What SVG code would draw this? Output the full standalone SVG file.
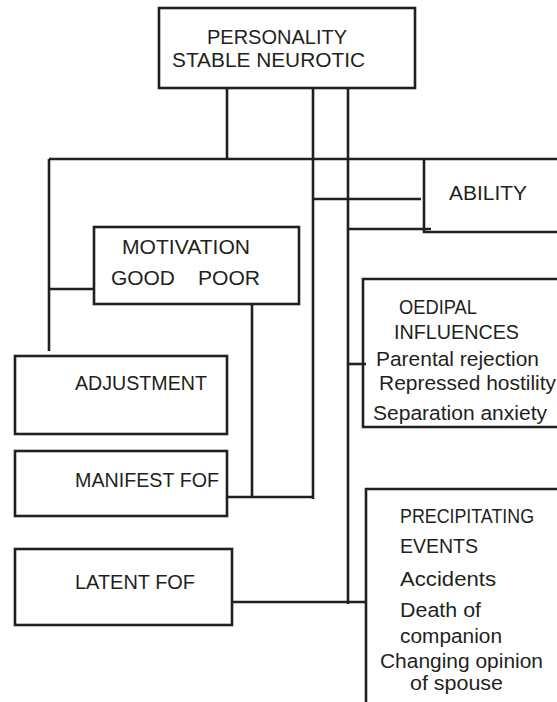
<svg xmlns="http://www.w3.org/2000/svg" width="557" height="702" viewBox="0 0 557 702">
<style>
.box{fill:#fff;stroke:#231f20;stroke-width:2.6}
.ln{fill:none;stroke:#231f20;stroke-width:2.6}
text{font-family:"Liberation Sans",Arial,sans-serif;font-size:20.5px;fill:#231f20}
</style>
<rect width="557" height="702" fill="#fff"/>
<g id="connectors">
<line class="ln" x1="227" y1="88" x2="227" y2="159"/>
<line class="ln" x1="313" y1="88" x2="313" y2="499"/>
<line class="ln" x1="348" y1="87" x2="348" y2="604"/>
<line class="ln" x1="49" y1="159" x2="557" y2="159"/>
<line class="ln" x1="49" y1="159" x2="49" y2="351"/>
<line class="ln" x1="49" y1="289" x2="94" y2="289"/>
<line class="ln" x1="312" y1="199" x2="421" y2="199"/>
<line class="ln" x1="348" y1="229" x2="431" y2="229"/>
<line class="ln" x1="252" y1="304" x2="252" y2="497"/>
<line class="ln" x1="223" y1="497" x2="313" y2="497"/>
<line class="ln" x1="348" y1="364" x2="366" y2="364"/>
<line class="ln" x1="232" y1="602" x2="366" y2="602"/>
</g>
<g id="personality">
<rect class="box" x="159" y="8" width="256" height="80"/>
<text x="207" y="44" textLength="140" lengthAdjust="spacingAndGlyphs">PERSONALITY</text>
<text x="172" y="67" textLength="193" lengthAdjust="spacingAndGlyphs">STABLE NEUROTIC</text>
</g>
<g id="ability">
<path class="ln" d="M424,159 V232 H560"/>
<text x="449" y="200" textLength="78" lengthAdjust="spacingAndGlyphs">ABILITY</text>
</g>
<g id="motivation">
<rect class="box" x="94" y="227" width="205" height="77"/>
<text x="122" y="254" textLength="128" lengthAdjust="spacingAndGlyphs">MOTIVATION</text>
<text x="111" y="285" textLength="64" lengthAdjust="spacingAndGlyphs">GOOD</text>
<text x="198" y="285" textLength="62" lengthAdjust="spacingAndGlyphs">POOR</text>
</g>
<g id="oedipal">
<path class="ln" d="M560,279 H363 V427 H560"/>
<text x="399" y="314" textLength="78" lengthAdjust="spacingAndGlyphs">OEDIPAL</text>
<text x="394" y="339" textLength="125" lengthAdjust="spacingAndGlyphs">INFLUENCES</text>
<text x="376" y="366" textLength="163" lengthAdjust="spacingAndGlyphs">Parental rejection</text>
<text x="379" y="390" textLength="177" lengthAdjust="spacingAndGlyphs">Repressed hostility</text>
<text x="373" y="420" textLength="174" lengthAdjust="spacingAndGlyphs">Separation anxiety</text>
</g>
<g id="adjustment">
<rect class="box" x="15" y="356" width="212" height="78"/>
<text x="75" y="390" textLength="132" lengthAdjust="spacingAndGlyphs">ADJUSTMENT</text>
</g>
<g id="manifest">
<rect class="box" x="15" y="451" width="212" height="65"/>
<text x="75" y="487" textLength="144" lengthAdjust="spacingAndGlyphs">MANIFEST FOF</text>
</g>
<g id="latent">
<rect class="box" x="15" y="549" width="217" height="76"/>
<text x="75" y="589" textLength="120" lengthAdjust="spacingAndGlyphs">LATENT FOF</text>
</g>
<g id="precipitating">
<path class="ln" d="M366,705 V489 H560"/>
<text x="400" y="523" textLength="134" lengthAdjust="spacingAndGlyphs">PRECIPITATING</text>
<text x="400" y="553" textLength="78" lengthAdjust="spacingAndGlyphs">EVENTS</text>
<text x="400" y="586" textLength="96" lengthAdjust="spacingAndGlyphs">Accidents</text>
<text x="400" y="617" textLength="81" lengthAdjust="spacingAndGlyphs">Death of</text>
<text x="400" y="643" textLength="102" lengthAdjust="spacingAndGlyphs">companion</text>
<text x="380" y="668" textLength="163" lengthAdjust="spacingAndGlyphs">Changing opinion</text>
<text x="410" y="690" textLength="93" lengthAdjust="spacingAndGlyphs">of spouse</text>
</g>
</svg>
